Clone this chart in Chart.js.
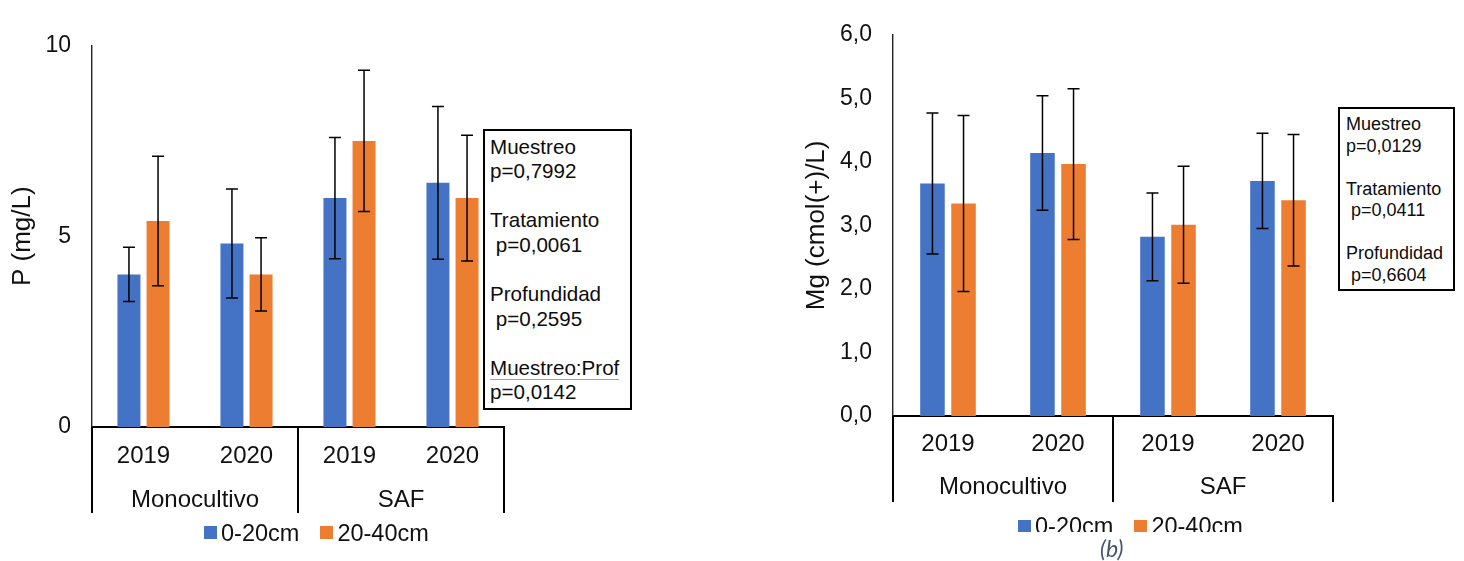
<!DOCTYPE html>
<html>
<head>
<meta charset="utf-8">
<script src="https://cdn.jsdelivr.net/npm/chart.js@4.4.1/dist/chart.umd.min.js"></script>
<style>
  html, body { margin: 0; padding: 0; background: #fff; }
  body { width: 1464px; height: 561px; position: relative; overflow: hidden;
         font-family: "Liberation Sans", Arial, sans-serif; color: #111; }
  canvas { position: absolute; top: 0; }
  .stat { position: absolute; box-sizing: border-box; border: 2px solid #000; background: #fff;
          white-space: pre; color: #0d0d0d; }
  .stat .sp { border-bottom: 1px solid #ee8080; }
  .legend { position: absolute; height: 28px; display: flex; align-items: center;
            font-size: 23.5px; line-height: 28px; color: #111; white-space: nowrap; }
  .legend .sw { width: 13px; height: 13px; margin-right: 4px; flex: none; }
  .legend .gap { width: 21px; flex: none; }
  .clip { position: absolute; overflow: hidden; }
  .caption { position: absolute; font-family: Lato, "Open Sans", sans-serif; font-style: italic;
             font-size: 23px; color: #44546A; line-height: 24px; }
</style>
</head>
<body>
<canvas id="chartP" width="640" height="561" style="left:0px"></canvas>
<canvas id="chartMg" width="560" height="561" style="left:790px"></canvas>

<div class="stat" style="left:483px; top:129px; width:149px; height:281px; font-size:20.6px; line-height:24.6px; padding:3.5px 0 0 5px;">Muestreo
p=0,7992

Tratamiento
 p=0,0061

Profundidad
 p=0,2595

<span class="sp">Muestreo:Prof</span>
p=0,0142</div>

<div class="stat" style="left:1338px; top:107px; width:117px; height:184px; font-size:18px; line-height:21.5px; padding:5px 0 0 6px;">Muestreo
p=0,0129

Tratamiento
 p=0,0411

Profundidad
 p=0,6604</div>

<div class="legend" id="legP" style="left:204px; top:518.5px;"></div>
<div class="clip" style="left:1000px; top:512px; width:300px; height:19.5px;">
  <div class="legend" id="legMg" style="left:18px; top:0px;"></div>
</div>
<div class="caption" style="left:1100px; top:535.5px;">(b)</div>

<script>
// Category axis: year of sampling, grouped by production system
const yearLabels = ['2019', '2020', '2019', '2020'];
const groupLabels = ['Monocultivo', 'SAF'];
const depthNames = ['0-20cm', '20-40cm'];
const depthColors = ['#4472C4', '#ED7D31'];

// Available phosphorus, P (mg/L): means and error half-widths
const pTop = [4.0, 4.81, 6.0, 6.4];
const pTopErr = [0.71, 1.43, 1.59, 2.0];
const pSub = [5.4, 4.0, 7.5, 6.0];
const pSubErr = [1.70, 0.96, 1.85, 1.65];
const pTicks = [0, 5, 10];

// Exchangeable magnesium, Mg (cmol(+)/L): means and error half-widths
const mgTop = [3.66, 4.14, 2.82, 3.70];
const mgTopErr = [1.11, 0.90, 0.69, 0.75];
const mgSub = [3.345, 3.965, 3.01, 3.395];
const mgSubErr = [1.385, 1.185, 0.92, 1.035];
const mgTicks = [0, 1, 2, 3, 4, 5, 6];

const TXT = '#111';
const FONT = '"Liberation Sans", Arial, sans-serif';

// Vertical error bars with end caps, placed on each bar through the value scale
const errorBars = {
  id: 'errorBars',
  afterDatasetsDraw(chart, args, opts) {
    const { ctx } = chart;
    const ys = chart.scales.y;
    const half = opts.cap / 2;
    ctx.save();
    ctx.strokeStyle = '#000';
    ctx.lineWidth = 1.5;
    chart.data.datasets.forEach((ds, di) => {
      chart.getDatasetMeta(di).data.forEach((bar, i) => {
        const v = ds.data[i], e = ds.errors[i];
        const top = ys.getPixelForValue(v + e);
        const bot = ys.getPixelForValue(v - e);
        const x = bar.x;
        ctx.beginPath();
        ctx.moveTo(x, top); ctx.lineTo(x, bot);
        ctx.moveTo(x - half, top); ctx.lineTo(x + half, top);
        ctx.moveTo(x - half, bot); ctx.lineTo(x + half, bot);
        ctx.stroke();
      });
    });
    ctx.restore();
  }
};

// Second level of the category axis: group labels and the dividing lines
const groupAxis = {
  id: 'groupAxis',
  afterDraw(chart, args, opts) {
    const { ctx, chartArea } = chart;
    const xs = chart.scales.x;
    const per = yearLabels.length / groupLabels.length;
    const y0 = chartArea.bottom;
    const bounds = [chartArea.left];
    for (let g = 1; g < groupLabels.length; g++) {
      const i = g * per;
      bounds.push((xs.getPixelForValue(i - 1) + xs.getPixelForValue(i)) / 2);
    }
    bounds.push(chartArea.right);
    ctx.save();
    ctx.strokeStyle = '#000';
    ctx.lineWidth = 2;
    bounds.forEach(b => {
      ctx.beginPath();
      ctx.moveTo(b, y0);
      ctx.lineTo(b, y0 + opts.depth);
      ctx.stroke();
    });
    ctx.fillStyle = TXT;
    ctx.font = '24px ' + FONT;
    ctx.textAlign = 'center';
    ctx.textBaseline = 'middle';
    groupLabels.forEach((lab, g) => {
      ctx.fillText(lab, (bounds[g] + bounds[g + 1]) / 2, y0 + opts.offset);
    });
    ctx.restore();
  }
};

function makeChart(id, o) {
  return new Chart(document.getElementById(id), {
    type: 'bar',
    data: {
      labels: yearLabels,
      datasets: [
        { label: depthNames[0], data: o.top, errors: o.topErr, backgroundColor: depthColors[0],
          categoryPercentage: 0.565, barPercentage: 0.79 },
        { label: depthNames[1], data: o.sub, errors: o.subErr, backgroundColor: depthColors[1],
          categoryPercentage: 0.565, barPercentage: 0.79 }
      ]
    },
    options: {
      responsive: false,
      devicePixelRatio: 1,
      animation: false,
      layout: { padding: o.padding },
      plugins: {
        legend: { display: false },
        tooltip: { enabled: false },
        errorBars: { cap: 12 },
        groupAxis: { depth: 86, offset: o.groupOffset }
      },
      scales: {
        x: {
          grid: { display: false, drawTicks: false },
          border: { display: true, color: '#000', width: 2 },
          ticks: { color: TXT, font: { family: FONT, size: 24 }, padding: o.yearPad, maxRotation: 0 },
          afterFit(s) { s.height = 100; }
        },
        y: {
          min: o.ticks[0],
          max: o.ticks[o.ticks.length - 1],
          afterBuildTicks(s) { s.ticks = o.ticks.map(v => ({ value: v })); },
          grid: { display: false, drawTicks: false },
          border: { display: true, color: '#222', width: 1.4 },
          ticks: { color: TXT, font: { family: FONT, size: 23 }, padding: 21, callback: o.fmt },
          title: { display: true, text: o.title, color: TXT, font: { family: FONT, size: 26 },
                   padding: { top: o.titlePad, bottom: 0 } },
          afterFit(s) { s.width = o.axisWidth; }
        }
      }
    },
    plugins: [errorBars, groupAxis]
  });
}

makeChart('chartP', {
  top: pTop, topErr: pTopErr, sub: pSub, subErr: pSubErr,
  ticks: pTicks, fmt: v => String(v), title: 'P (mg/L)',
  axisWidth: 92, titlePad: 7.5, yearPad: 14.6, groupOffset: 73,
  padding: { left: 0, right: 136, top: 45.5, bottom: 34 }
});

makeChart('chartMg', {
  top: mgTop, topErr: mgTopErr, sub: mgSub, subErr: mgSubErr,
  ticks: mgTicks, fmt: v => Number(v).toFixed(1).replace('.', ','), title: 'Mg (cmol(+)/L)',
  axisWidth: 103, titlePad: 11, yearPad: 14.3, groupOffset: 71,
  padding: { left: 0, right: 17, top: 23.3, bottom: 45 }
});

// Series key below each chart
function buildLegend(id) {
  const el = document.getElementById(id);
  depthNames.forEach((name, i) => {
    if (i > 0) { const g = document.createElement('span'); g.className = 'gap'; el.appendChild(g); }
    const sw = document.createElement('span');
    sw.className = 'sw';
    sw.style.background = depthColors[i];
    el.appendChild(sw);
    const t = document.createElement('span');
    t.textContent = name;
    el.appendChild(t);
  });
}
buildLegend('legP');
buildLegend('legMg');
</script>
</body>
</html>
